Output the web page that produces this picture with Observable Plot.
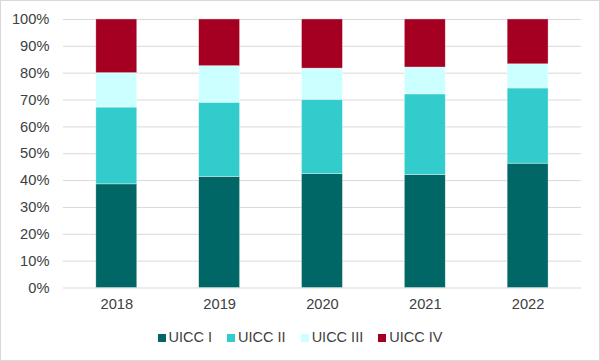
<!DOCTYPE html>
<html>
<head>
<meta charset="utf-8">
<script src="https://cdn.jsdelivr.net/npm/d3@7"></script>
<script src="https://cdn.jsdelivr.net/npm/@observablehq/plot@0.6"></script>
<style>
  html, body { margin: 0; padding: 0; background: #fff; }
  #frame { width: 600px; height: 361px; box-sizing: border-box; border: 1px solid #d9d9d9; position: relative; overflow: hidden; font-family: "Liberation Sans", Arial, sans-serif; }
  #chart { position: absolute; left: -1px; top: -1px; }
  #chart svg text { font-size: 14.7px; }
  #legend { position: absolute; left: 0; right: 0; top: 328px; display: flex; justify-content: center; gap: 15px; font-size: 14.5px; color: #404040; line-height: 17px; }
  .item { display: flex; align-items: center; gap: 3px; }
  .sw { width: 8px; height: 8px; display: inline-block; }
</style>
</head>
<body>
<div id="frame"><div id="chart"></div><div id="legend"></div></div>
<script>
const years = ["2018", "2019", "2020", "2021", "2022"];
const series = ["UICC I", "UICC II", "UICC III", "UICC IV"];
const colors = ["#006666", "#33CCCC", "#CCFFFF", "#A50021"];
const uiccI   = [38.6, 41.4, 42.4, 42.1, 46.3];
const uiccII  = [28.6, 27.6, 27.7, 30.0, 28.0];
const uiccIII = [12.8, 13.6, 11.6, 10.0, 9.0];
const uiccIV  = [20.0, 17.4, 18.3, 17.9, 16.7];
const yTicks = [0, 0.1, 0.2, 0.3, 0.4, 0.5, 0.6, 0.7, 0.8, 0.9, 1.0];

const seriesValues = [uiccI, uiccII, uiccIII, uiccIV];
const data = [];
series.forEach((s, si) => years.forEach((y, yi) => data.push({year: y, stage: s, value: seriesValues[si][yi] / 100})));

const chart = Plot.plot({
  width: 600,
  height: 318,
  marginTop: 19,
  marginBottom: 30,
  marginLeft: 63,
  marginRight: 18,
  style: { fontFamily: "Liberation Sans, Arial, sans-serif", fontSize: "14.7px", color: "#404040", background: "transparent" },
  x: { domain: years, paddingInner: 0.6, paddingOuter: 0.3, label: null },
  y: { domain: [0, 1], label: null },
  color: { domain: series, range: colors },
  marks: [
    Plot.ruleY(yTicks, { stroke: "#d9d9d9", strokeWidth: 1 }),
    Plot.barY(data, { x: "year", y: "value", fill: "stage", z: "stage", stroke: "#ffffff", strokeWidth: 0.6, strokeOpacity: 0.6 }),
    Plot.axisY(yTicks, { tickFormat: d3.format(".0%"), tickSize: 0, tickPadding: 14, fontSize: 14.7, fill: "#404040", label: null }),
    Plot.axisX({ tickSize: 0, tickPadding: 11, fontSize: 14.7, fill: "#404040", label: null })
  ]
});
document.getElementById("chart").appendChild(chart);

const legend = document.getElementById("legend");
series.forEach((s, i) => {
  const it = document.createElement("div");
  it.className = "item";
  it.innerHTML = `<span class="sw" style="background:${colors[i]}"></span><span>${s}</span>`;
  legend.appendChild(it);
});
</script>
</body>
</html>
